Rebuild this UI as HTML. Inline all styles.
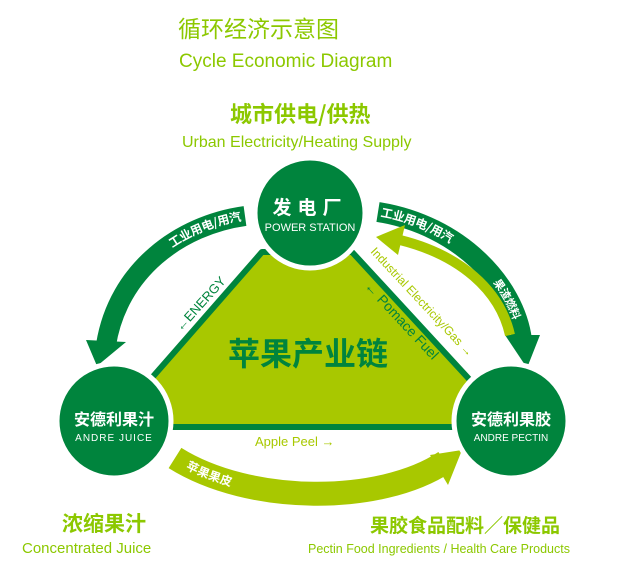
<!DOCTYPE html>
<html><head><meta charset="utf-8"><style>
html,body{margin:0;padding:0;background:#fff;width:642px;height:565px;overflow:hidden}
svg{display:block}
text{font-family:"Liberation Sans","Noto Sans CJK SC",sans-serif}
.cn{font-family:"Noto Sans CJK SC","WenQuanYi Zen Hei",sans-serif}
</style></head><body>
<svg width="642" height="565" viewBox="0 0 642 565" xmlns="http://www.w3.org/2000/svg">
<defs>
<path id="pl" d="M106,345 C118,270 180,225 245,216"/>
<path id="pr" d="M378,212 C460,225 515,285 522,340"/>
<path id="pb" d="M175,458 C250,505 380,505 445,462"/>
</defs>
<!-- titles -->
<text x="178" y="37" class="cn" font-size="23" fill="#8cc800">循环经济示意图</text>
<text x="179" y="67" font-size="19" fill="#8cc800">Cycle Economic Diagram</text>
<text x="230" y="122" class="cn" font-size="22" font-weight="bold" fill="#8cc800">城市供电/供热</text>
<text x="182" y="147" font-size="16" fill="#8cc800">Urban Electricity/Heating Supply</text>

<!-- triangle -->
<polygon points="262,252 352,252 470,380 470,427 150,427 150,380" fill="#a8c800" stroke="#00843d" stroke-width="6" stroke-linejoin="round"/>
<text x="308" y="365" class="cn" font-size="32" font-weight="bold" fill="#00843d" text-anchor="middle">苹果产业链</text>
<text x="0" y="0" font-size="13" fill="#00843d" transform="translate(181,332) rotate(-48)">←ENERGY</text>
<text x="0" y="0" font-size="14" fill="#00843d" transform="translate(364,287) rotate(47)">← Pomace Fuel</text>
<text x="0" y="0" font-size="12" fill="#a8c800" transform="translate(370,252) rotate(47)">Industrial Electricity/Gas →</text>
<text x="255" y="446" font-size="13" fill="#a8c800">Apple Peel →</text>

<!-- left arc -->
<path d="M106,345 C118,270 180,225 245,216" fill="none" stroke="#00843d" stroke-width="20"/>
<polygon points="86,340 126,342 97,366" fill="#00843d"/>
<text class="cn" font-size="12" font-weight="bold" fill="#fff" dy="4" text-anchor="end"><textPath href="#pl" startOffset="98%">工业用电/用汽</textPath></text>

<!-- right arcs -->
<path d="M378,212 C460,225 515,285 522,340" fill="none" stroke="#00843d" stroke-width="20"/>
<polygon points="505,335 540,335 527,368" fill="#00843d"/>
<path d="M510,335 C500,290 460,255 400,240" fill="none" stroke="#a8c800" stroke-width="10"/>
<polygon points="405,225 398,255 376,237" fill="#a8c800"/>
<text class="cn" font-size="12" font-weight="bold" fill="#fff" dy="4"><textPath href="#pr" startOffset="3">工业用电/用汽</textPath></text>
<text class="cn" font-size="11" font-weight="bold" fill="#fff" dy="4"><textPath href="#pr" startOffset="68%">果渣燃料</textPath></text>

<!-- bottom arc -->
<path d="M175,458 C250,505 380,505 445,462" fill="none" stroke="#a8c800" stroke-width="24"/>
<polygon points="430,455 462,450 448,485" fill="#a8c800"/>
<text class="cn" font-size="12" font-weight="bold" fill="#fff" dy="4"><textPath href="#pb" startOffset="14">苹果果皮</textPath></text>

<!-- circles -->
<circle cx="310" cy="213" r="55" fill="#00843d" stroke="#fff" stroke-width="5"/>
<text x="310" y="214" class="cn" font-size="19" font-weight="bold" fill="#fff" text-anchor="middle" letter-spacing="6">发电厂</text>
<text x="310" y="231" font-size="11" fill="#fff" text-anchor="middle">POWER STATION</text>
<circle cx="114" cy="421" r="57" fill="#00843d" stroke="#fff" stroke-width="5"/>
<text x="114" y="425" class="cn" font-size="16" font-weight="bold" fill="#fff" text-anchor="middle">安德利果汁</text>
<text x="114" y="441" font-size="10" fill="#fff" text-anchor="middle" letter-spacing="1">ANDRE JUICE</text>
<circle cx="511" cy="421" r="57" fill="#00843d" stroke="#fff" stroke-width="5"/>
<text x="511" y="425" class="cn" font-size="16" font-weight="bold" fill="#fff" text-anchor="middle">安德利果胶</text>
<text x="511" y="441" font-size="10" fill="#fff" text-anchor="middle">ANDRE PECTIN</text>

<!-- bottom captions -->
<text x="62" y="531" class="cn" font-size="21" font-weight="bold" fill="#8cc800">浓缩果汁</text>
<text x="22" y="553" font-size="15" fill="#8cc800">Concentrated Juice</text>
<text x="370" y="532" class="cn" font-size="19" font-weight="bold" fill="#8cc800">果胶食品配料／保健品</text>
<text x="308" y="553" font-size="12.5" fill="#8cc800">Pectin Food Ingredients / Health Care Products</text>
</svg>
</body></html>
